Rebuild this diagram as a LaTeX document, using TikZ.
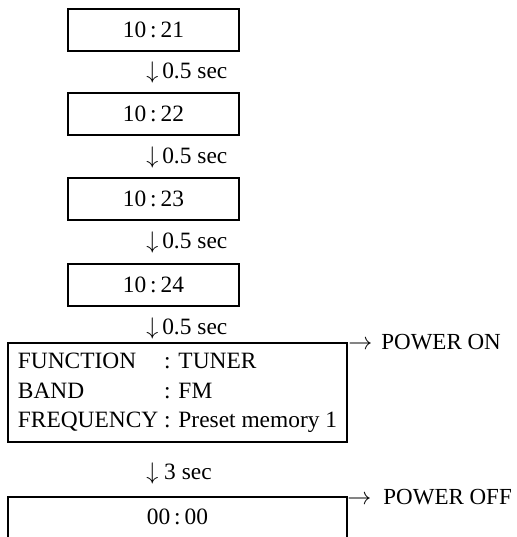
\documentclass[tikz,border=0pt]{standalone}
\usepackage{fontspec}
\setmainfont{Liberation Serif}
\usetikzlibrary{positioning}
\begin{document}
\begin{tikzpicture}[x=0.5pt,y=-0.5pt,
		font=\fontsize{11.7}{14.75}\selectfont,
		timebox/.style={draw,line width=0.9pt,minimum width=85.5pt,minimum height=21pt,inner sep=0pt},
		delay/.style={anchor=west,inner sep=0pt},
		power/.style={anchor=west,inner sep=0pt,font=\fontsize{11.5}{14}\selectfont}]
		\useasboundingbox (0,0) rectangle (517,537);

		% clock display every 0.5 sec
		\node[timebox] (t1) at (153.5,30) {10\,:\,21};
		\node[timebox] (t2) at (153.5,114) {10\,:\,22};
		\node[timebox] (t3) at (153.5,199) {10\,:\,23};
		\node[timebox] (t4) at (153.5,285) {10\,:\,24};

		\node[delay] (d1) at (146,72) {$\downarrow$\,0.5 sec};
		\node[delay] (d2) at (146,157) {$\downarrow$\,0.5 sec};
		\node[delay] (d3) at (146,242) {$\downarrow$\,0.5 sec};
		\node[delay] (d4) at (146,328) {$\downarrow$\,0.5 sec};

		% tuner settings
		\node[draw,line width=0.9pt,inner xsep=5pt,inner ysep=2pt,minimum height=49.5pt] (tuner) at (177.5,392.5)
			{\begin{tabular}{@{}l@{ }l@{}}
				FUNCTION & : TUNER\\
				BAND & : FM\\
				FREQUENCY & : Preset memory 1
			\end{tabular}};
		\node[power] (on) at (tuner.north east) {$\rightarrow$\hspace{4.5pt}POWER ON};

		\node[delay] (d5) at (146,473) {$\downarrow$ 3 sec};

		% last display, cut off at the bottom
		\coordinate (offNW) at (8,497);
		\coordinate (offNE) at (347,497);
		\draw[line width=0.9pt] (offNW |- 0,540) -- (offNW) -- (offNE) -- (offNE |- 0,540);
		\node (off) at (177.5,517) {00\,:\,00};
		\node[power] (offtxt) at (offNE) {$\rightarrow$\hspace{6pt}POWER OFF};
	\end{tikzpicture}
\end{document}
